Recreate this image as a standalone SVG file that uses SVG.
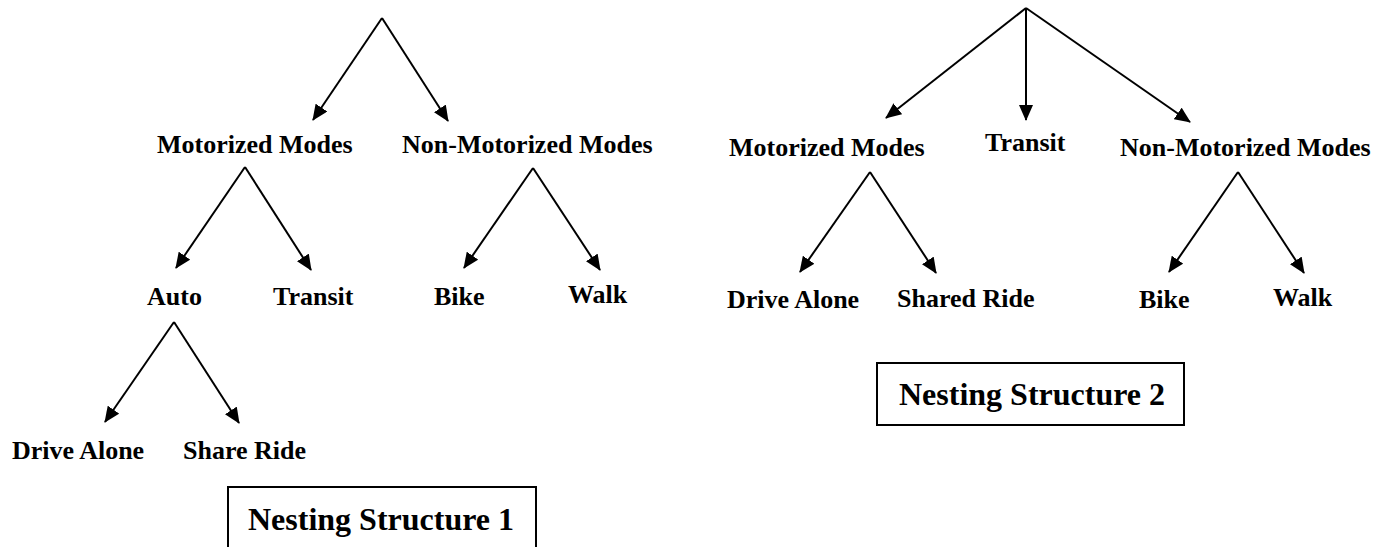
<svg xmlns="http://www.w3.org/2000/svg" width="1395" height="547" viewBox="0 0 1395 547">
<style>
.lbl{font-family:"Liberation Serif","Times New Roman",serif;font-weight:bold;font-size:26px;fill:#000}
.ttl{font-family:"Liberation Serif","Times New Roman",serif;font-weight:bold;font-size:32px;fill:#000}
.c line{stroke:#000;stroke-width:2;marker-end:url(#ah)}
.box{fill:none;stroke:#000;stroke-width:2}
</style>
<defs>
<marker id="ah" viewBox="0 0 16 14" refX="15" refY="7" markerWidth="16" markerHeight="14" markerUnits="userSpaceOnUse" orient="auto">
<path d="M0,0 L16,7 L0,14 z" fill="#000"/>
</marker>
</defs>
<rect width="1395" height="547" fill="#fff"/>
<g id="connectors" class="c">
<line x1="382" y1="18" x2="313" y2="120"/>
<line x1="382" y1="18" x2="448" y2="121"/>
<line x1="245" y1="167" x2="176" y2="268"/>
<line x1="245" y1="167" x2="311" y2="270"/>
<line x1="533" y1="168" x2="464" y2="268"/>
<line x1="533" y1="168" x2="600" y2="270"/>
<line x1="174" y1="322" x2="105" y2="422"/>
<line x1="174" y1="322" x2="239" y2="423"/>
<line x1="1026" y1="8" x2="886" y2="118"/>
<line x1="1026" y1="8" x2="1026" y2="120"/>
<line x1="1026" y1="8" x2="1190" y2="122"/>
<line x1="870" y1="172" x2="800" y2="272"/>
<line x1="870" y1="172" x2="936" y2="273"/>
<line x1="1238" y1="172" x2="1169" y2="272"/>
<line x1="1238" y1="172" x2="1304" y2="273"/>
</g>
<g id="s1-motorized"><text class="lbl" x="157" y="153">Motorized Modes</text></g>
<g id="s1-nonmotorized"><text class="lbl" x="402" y="153">Non-Motorized Modes</text></g>
<g id="s1-auto"><text class="lbl" x="147" y="305">Auto</text></g>
<g id="s1-transit"><text class="lbl" x="273" y="305">Transit</text></g>
<g id="s1-bike"><text class="lbl" x="434" y="305">Bike</text></g>
<g id="s1-walk"><text class="lbl" x="568" y="303">Walk</text></g>
<g id="s1-drivealone"><text class="lbl" x="12" y="459">Drive Alone</text></g>
<g id="s1-shareride"><text class="lbl" x="183" y="459">Share Ride</text></g>
<g id="s1-title"><rect class="box" x="228" y="487" width="308" height="62"/><text class="ttl" x="248" y="530">Nesting Structure 1</text></g>
<g id="s2-motorized"><text class="lbl" x="729" y="156">Motorized Modes</text></g>
<g id="s2-transit"><text class="lbl" x="985" y="151">Transit</text></g>
<g id="s2-nonmotorized"><text class="lbl" x="1120" y="156">Non-Motorized Modes</text></g>
<g id="s2-drivealone"><text class="lbl" x="727" y="308">Drive Alone</text></g>
<g id="s2-sharedride"><text class="lbl" x="897" y="307">Shared Ride</text></g>
<g id="s2-bike"><text class="lbl" x="1139" y="308">Bike</text></g>
<g id="s2-walk"><text class="lbl" x="1273" y="306">Walk</text></g>
<g id="s2-title"><rect class="box" x="877" y="363" width="307" height="62"/><text class="ttl" x="899" y="405">Nesting Structure 2</text></g>
</svg>
